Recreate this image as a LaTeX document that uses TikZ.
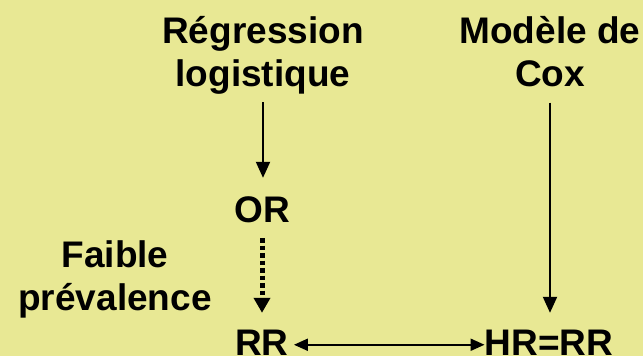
\documentclass[tikz,border=0pt]{standalone}
\usepackage{fontspec}
\setmainfont{Liberation Sans}
\usetikzlibrary{arrows.meta}
\definecolor{bgyellow}{RGB}{232,232,148}
\begin{document}
\begin{tikzpicture}[x=1pt,y=-1pt,
  lbl/.style={font=\fontsize{37}{43}\selectfont\bfseries, inner sep=0pt, align=center, anchor=base},
  cell/.style={font=\fontsize{37}{43}\selectfont\bfseries, inner sep=0pt, anchor=base, text height=26.5pt, text depth=0pt},
  arr/.style={line width=2pt, -{Triangle[length=16pt,width=14pt]}},
  dotarr/.style={line width=5pt, dash pattern=on 4.7pt off 2.8pt, -{Triangle[length=15pt,width=16pt]}},
  dbl/.style={line width=2pt, {Triangle[length=14pt,width=12pt]}-{Triangle[length=14pt,width=12pt]}}]
\fill[bgyellow] (0,0) rectangle (643,356);
\useasboundingbox (0,0) rectangle (643,356);
\node[lbl] (reg) at (263,86) {Régression\\logistique};
\node[lbl] (cox) at (550,86) {Modèle de\\Cox};
\node[lbl] (fai) at (115,310) {Faible\\prévalence};
\node[cell] (or) at (262,222) {OR};
\node[cell] (rr) at (262,355) {RR};
\node[cell] (hr) at (549,355) {HR=RR};
\draw[arr, shorten <=8pt, shorten >=17.5pt] (reg.south) -- (reg.south |- or.north);
\draw[dotarr, shorten <=16pt, shorten >=15.5pt] (or.south) -- (or.south |- rr.north);
\draw[arr, shorten <=16pt, shorten >=15.5pt] (cox.south) -- (cox.south |- hr.north);
\draw[dbl, shorten <=5pt] ([yshift=-3pt]rr.east) -- ([yshift=-3pt]hr.west);
\end{tikzpicture}
\end{document}
